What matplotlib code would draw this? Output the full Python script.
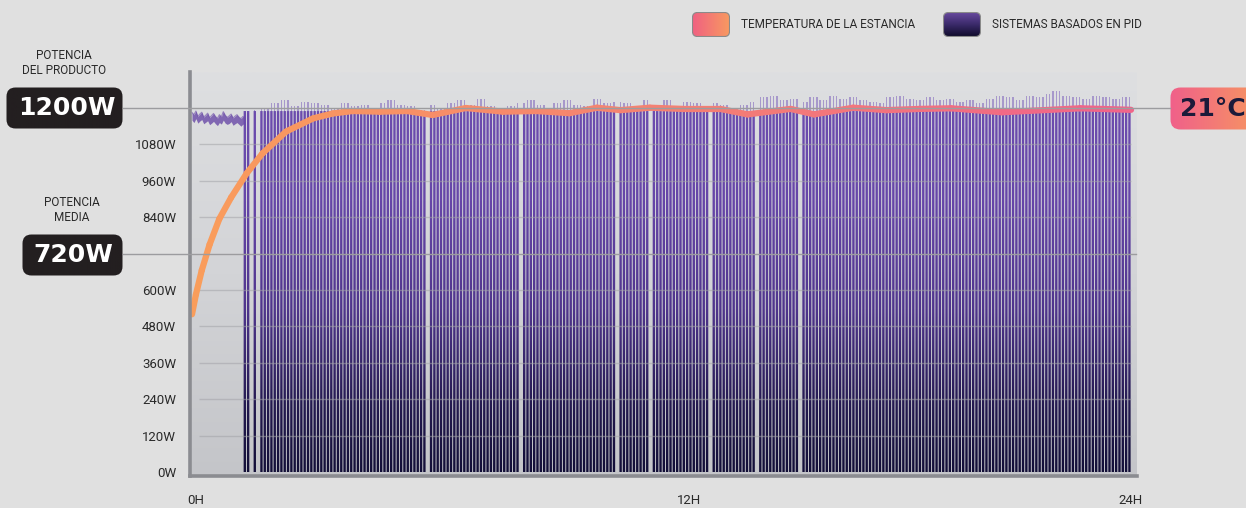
import numpy as np
import matplotlib
matplotlib.use('Agg')
import matplotlib.pyplot as plt
import matplotlib.transforms as mtransforms
from matplotlib.patches import FancyBboxPatch, PathPatch
from matplotlib.path import Path
from matplotlib.colors import LinearSegmentedColormap
from matplotlib.collections import LineCollection
from matplotlib.lines import Line2D

W, H = 1246, 508

# ------  data  ------

# room temperature curve, drawn on the power scale (W-equivalent)
temp_hours = [0.0, 0.1, 0.25, 0.45, 0.7, 1.0, 1.4, 1.8, 2.4, 3.1, 3.6, 4.1, 4.8, 5.5,
              6.15, 7.0, 7.95, 8.8, 9.65, 10.35, 10.95, 11.7, 12.55, 13.5, 14.2, 15.3,
              15.9, 16.9, 17.75, 18.6, 19.4, 20.7, 22.7, 24.0]
temp_level = [520, 585, 665, 750, 835, 905, 985, 1050, 1122, 1166, 1182, 1190, 1188, 1190,
              1177, 1200, 1188, 1190, 1183, 1201, 1193, 1201, 1197, 1197, 1179, 1197,
              1179, 1201, 1193, 1197, 1199, 1186, 1199, 1194]

# continuous full power phase before switching starts (every 0.05H)
early_hi = [1185, 1178, 1190, 1172, 1180, 1186, 1170, 1176, 1183, 1168, 1175, 1182, 1172, 1166,
            1178, 1171, 1188, 1176, 1169, 1174, 1180, 1167, 1173, 1178, 1170, 1165, 1172, 1168]
early_lo = [1160, 1152, 1165, 1150, 1157, 1162, 1148, 1153, 1158, 1145, 1150, 1156, 1148, 1142,
            1152, 1147, 1160, 1150, 1146, 1149, 1155, 1143, 1148, 1152, 1146, 1140, 1147, 1144]

# PID switching: on level and peak power per quarter hour from 1.25H
pid_start = 1.35
pid_on_w = 1190
pid_peak = [1185, 1195, 1200, 1215, 1225, 1205, 1220, 1215, 1210, 1200,
            1215, 1205, 1210, 1200, 1215, 1225, 1210, 1205, 1195, 1210,
            1200, 1215, 1225, 1210, 1230, 1205, 1200, 1205, 1215, 1225,
            1210, 1200, 1215, 1225, 1210, 1205, 1230, 1215, 1220, 1215,
            1205, 1225, 1210, 1225, 1205, 1220, 1215, 1205, 1215, 1210,
            1200, 1210, 1220, 1235, 1240, 1225, 1230, 1220, 1235, 1225,
            1240, 1230, 1235, 1225, 1220, 1215, 1235, 1240, 1230, 1225,
            1235, 1225, 1230, 1220, 1225, 1215, 1230, 1240, 1235, 1225,
            1240, 1235, 1245, 1255, 1240, 1235, 1230, 1240, 1235, 1230,
            1235]
gap_hours = [1.5, 1.7, 6.05, 8.4, 10.85, 11.75, 13.25, 14.45, 15.55]

y_ticks = [0, 120, 240, 360, 480, 600, 840, 960, 1080]
grid_levels = [120, 240, 360, 480, 600, 840, 960, 1080]
x_tick_pos = [0.1, 12.7, 24]
x_tick_labels = ['0H', '12H', '24H']

product_w = 1200
mean_w = 720

# ------  figure  ------

fig = plt.figure(figsize=(W / 100, H / 100), dpi=100, facecolor='#e0e0e0')
ax = fig.add_axes([190 / W, (H - 476) / H, 947 / W, 404 / H])
xlim = (-0.051, 24.153)
ylim = (-13.2, 1318.7)

bg_cmap = LinearSegmentedColormap.from_list('bg', ['#c4c5c9', '#d3d4d7', '#dedfe1'])
ax.imshow(np.linspace(0, 1, 256).reshape(-1, 1), extent=[*xlim, *ylim], origin='lower',
          aspect='auto', cmap=bg_cmap, zorder=0)

# stripes with vertical gradient
bar_cmap = LinearSegmentedColormap.from_list(
    'bars', [(0, '#130f38'), (0.18, '#23194f'), (0.45, '#4f358c'), (0.75, '#6646a8'), (1, '#6c4cae')])
pitch = 0.085
sw = 0.06
stripe_x = np.arange(pid_start, 24.0, pitch)
keep = np.array([min(abs(x - g) for g in gap_hours) > 0.045 for x in stripe_x])
stripe_x = stripe_x[keep]
seg = np.clip(((stripe_x - 1.25) / 0.25).astype(int), 0, len(pid_peak) - 1)
peaks = np.array(pid_peak)[seg]

verts, codes = [], []
for x in stripe_x:
    x0, x1 = x - sw / 2, x + sw / 2
    verts += [(x0, 0), (x1, 0), (x1, pid_on_w), (x0, pid_on_w), (x0, 0)]
    codes += [Path.MOVETO, Path.LINETO, Path.LINETO, Path.LINETO, Path.CLOSEPOLY]
clip = PathPatch(Path(verts, codes), transform=ax.transData, fc='none', ec='none')
ax.add_patch(clip)
im = ax.imshow(np.linspace(0, 1, 256).reshape(-1, 1), extent=[pid_start - 0.1, 24.1, 0, pid_on_w],
               origin='lower', aspect='auto', cmap=bar_cmap, zorder=2)
im.set_clip_path(clip)
ax.bar(stripe_x, peaks - pid_on_w, bottom=pid_on_w, width=0.035, color='#7354b8',
       alpha=0.5, linewidth=0, zorder=2)

# early continuous phase
early_hours = np.arange(len(early_hi)) * 0.05
ax.fill_between(early_hours, early_lo, early_hi, color='#6a4aa8', alpha=0.8, lw=0, zorder=2)
ax.plot(early_hours, early_hi, color='#6a4aa8', lw=0.8, alpha=0.6, zorder=2)

# grid
ax.hlines(grid_levels, 0.18, 24.0, color='#a3a3a8', lw=1, alpha=0.55, zorder=3)

# temperature line with gradient
pts = np.column_stack([temp_hours, temp_level])
segs = np.stack([pts[:-1], pts[1:]], axis=1)
temp_cmap = LinearSegmentedColormap.from_list('temp', ['#f99d5b', '#f0648a'])
lc = LineCollection(segs, cmap=temp_cmap, norm=plt.Normalize(0, 24), linewidth=4.5,
                    capstyle='round', joinstyle='round', zorder=4)
lc.set_array(np.array(temp_hours[:-1]) + np.diff(temp_hours) / 2)
ax.add_collection(lc)

ax.set_xlim(*xlim)
ax.set_ylim(*ylim)
for s in ['top', 'right']:
    ax.spines[s].set_visible(False)
for s in ['left', 'bottom']:
    ax.spines[s].set_color('#8b8c91')
    ax.spines[s].set_linewidth(2.6)
    ax.spines[s].set_zorder(5)

ax.set_yticks(y_ticks)
ax.set_yticklabels([f'{v}W' for v in y_ticks], family='Roboto', fontsize=9.5, color='#2a2a2a')
ax.set_xticks(x_tick_pos)
ax.set_xticklabels(x_tick_labels, family='Roboto', fontsize=9.5, color='#2a2a2a')
ax.tick_params(axis='y', length=0, pad=10)
ax.tick_params(axis='x', length=0, pad=13)

# reference lines for the boxed values
bt = mtransforms.blended_transform_factory(fig.transFigure, ax.transData)
fig.add_artist(Line2D([123 / W, 1170 / W], [product_w, product_w], transform=bt,
                      color='#9c9c9f', lw=1, zorder=3))
fig.add_artist(Line2D([123 / W, 1136 / W], [mean_w, mean_w], transform=bt,
                      color='#9c9c9f', lw=1, zorder=3))


def px_axes(x0, y0, w, h):
    a = fig.add_axes([x0 / W, 1 - (y0 + h) / H, w / W, h / H])
    a.axis('off')
    return a


def rounded_box(x0, y0, w, h, colors, r, horizontal=True, edge=None):
    a = px_axes(x0, y0, w, h)
    box = FancyBboxPatch((0.5, 0.5), w - 1, h - 1, boxstyle=f'round,pad=0,rounding_size={r}',
                         fc='none', ec=edge if edge else 'none', lw=0.8, zorder=3)
    a.add_patch(box)
    g = np.linspace(0, 1, 128)
    img = g.reshape(1, -1) if horizontal else g.reshape(-1, 1)
    cm = LinearSegmentedColormap.from_list('g', colors)
    gi = a.imshow(img, extent=[0, w, 0, h], origin='lower', aspect='auto', cmap=cm, zorder=1)
    gi.set_clip_path(box)
    a.set_xlim(0, w)
    a.set_ylim(0, h)
    return a


# value boxes
a1 = rounded_box(6, 87, 117, 42, ['#231f20', '#231f20'], 9)
a1.text(60.5, 21, f'{product_w}W', ha='center', va='center', color='white',
        fontsize=18, fontweight='bold', family='DejaVu Sans')
a2 = rounded_box(22, 234, 101, 42, ['#231f20', '#231f20'], 9)
a2.text(51.5, 21, f'{mean_w}W', ha='center', va='center', color='white',
        fontsize=18, fontweight='bold', family='DejaVu Sans')
a3 = rounded_box(1170, 87, 95, 43, ['#f0608a', '#f7995f'], 10)
a3.text(43, 21.5, '21°C', ha='center', va='center', color='#1c1a3a',
        fontsize=18, fontweight='bold', family='DejaVu Sans')

fig.text(64 / W, 1 - 63 / H, 'POTENCIA\nDEL PRODUCTO', ha='center', va='center',
         family='Roboto', fontsize=8.5, color='#2a2a2a', linespacing=1.25)
fig.text(72 / W, 1 - 210 / H, 'POTENCIA\nMEDIA', ha='center', va='center',
         family='Roboto', fontsize=8.5, color='#2a2a2a', linespacing=1.25)

# legend
rounded_box(692, 12, 38, 25, ['#f06082', '#f89a60'], 5, edge='#8a8a8a')
fig.text(741 / W, 1 - 25 / H, 'TEMPERATURA DE LA ESTANCIA', ha='left', va='center',
         family='Roboto', fontsize=8.5, color='#2a2a2a')
rounded_box(943, 12, 38, 25, ['#0e0a28', '#3a2a6a', '#6a4aa0'], 5, horizontal=False, edge='#8a8a8a')
fig.text(992 / W, 1 - 25 / H, 'SISTEMAS BASADOS EN PID', ha='left', va='center',
         family='Roboto', fontsize=8.5, color='#2a2a2a')

fig.savefig('out.png', dpi=100, facecolor=fig.get_facecolor())
